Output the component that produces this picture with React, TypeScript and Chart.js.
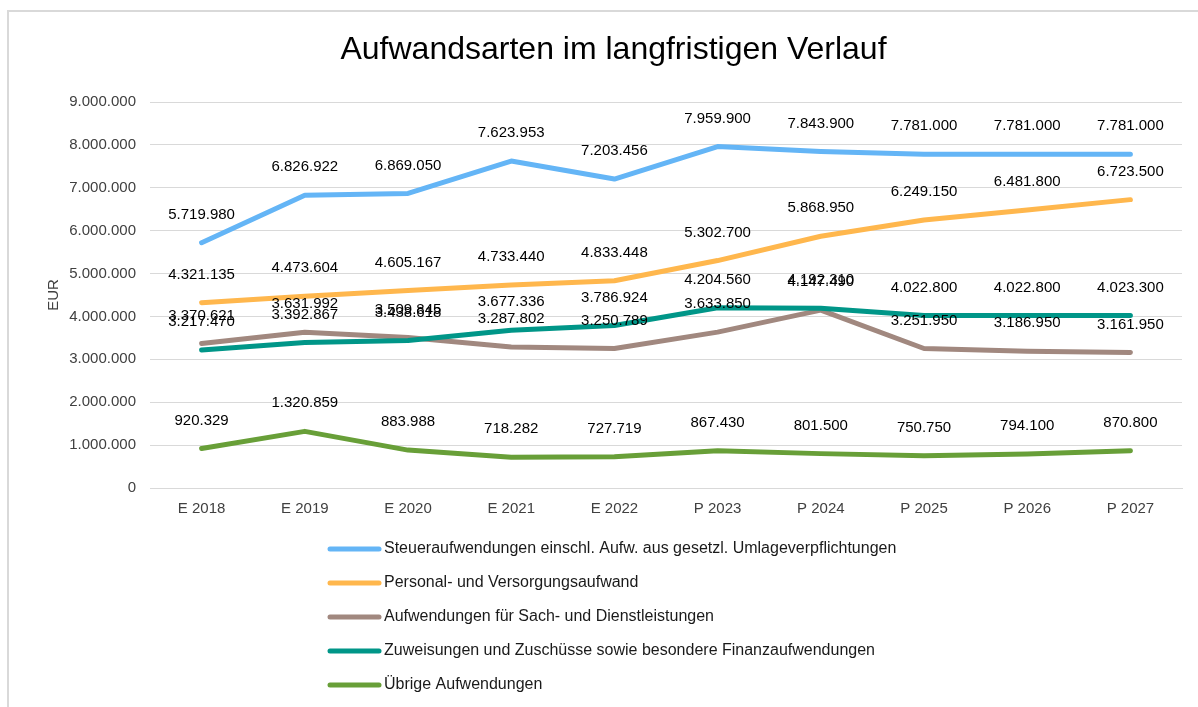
import React, { useEffect, useRef } from "react";
import { Chart, registerables } from "chart.js";

Chart.register(...registerables);

const categories = ["E 2018", "E 2019", "E 2020", "E 2021", "E 2022", "P 2023", "P 2024", "P 2025", "P 2026", "P 2027"];

const steuerValues = [5719980, 6826922, 6869050, 7623953, 7203456, 7959900, 7843900, 7781000, 7781000, 7781000];
const personalValues = [4321135, 4473604, 4605167, 4733440, 4833448, 5302700, 5868950, 6249150, 6481800, 6723500];
const sachValues = [3370621, 3631992, 3509845, 3287802, 3250789, 3633850, 4147490, 3251950, 3186950, 3161950];
const zuweisungValues = [3217470, 3392867, 3438618, 3677336, 3786924, 4204560, 4192310, 4022800, 4022800, 4023300];
const uebrigeValues = [920329, 1320859, 883988, 718282, 727719, 867430, 801500, 750750, 794100, 870800];

const seriesNames = [
  "Steueraufwendungen einschl. Aufw. aus gesetzl. Umlageverpflichtungen",
  "Personal- und Versorgungsaufwand",
  "Aufwendungen für Sach- und Dienstleistungen",
  "Zuweisungen und Zuschüsse sowie besondere Finanzaufwendungen",
  "Übrige Aufwendungen",
];
const seriesColors = ["#64B5F6", "#FFB74D", "#A1887F", "#009688", "#689F38"];

const yTicks = [0, 1000000, 2000000, 3000000, 4000000, 5000000, 6000000, 7000000, 8000000, 9000000];

const FONT = "'Liberation Sans', Arial, sans-serif";

const fmt = (n: number) => String(Math.round(n)).replace(/\B(?=(\d{3})+(?!\d))/g, ".");

const dataLabelPlugin = {
  id: "dataLabels",
  afterDatasetsDraw(chart: any) {
    const ctx = chart.ctx;
    ctx.save();
    ctx.font = `15px ${FONT}`;
    ctx.fillStyle = "#000000";
    ctx.textAlign = "center";
    ctx.textBaseline = "middle";
    chart.data.datasets.forEach((ds: any, i: number) => {
      const meta = chart.getDatasetMeta(i);
      meta.data.forEach((pt: any, j: number) => {
        ctx.fillText(fmt(ds.data[j]), pt.x, pt.y - 28);
      });
    });
    ctx.restore();
  },
};

const customLegendPlugin = {
  id: "customLegend",
  afterDraw(chart: any) {
    const ctx = chart.ctx;
    ctx.save();
    const x0 = 330;
    const yStart = 549;
    const step = 34;
    chart.data.datasets.forEach((ds: any, i: number) => {
      const y = yStart + i * step;
      ctx.strokeStyle = ds.borderColor;
      ctx.lineWidth = 5;
      ctx.lineCap = "round";
      ctx.beginPath();
      ctx.moveTo(x0, y);
      ctx.lineTo(x0 + 49, y);
      ctx.stroke();
      ctx.font = `16px ${FONT}`;
      ctx.fillStyle = "#1a1a1a";
      ctx.textAlign = "left";
      ctx.textBaseline = "middle";
      ctx.fillText(ds.label, x0 + 54, y);
    });
    ctx.restore();
  },
};

export default function App() {
  const canvasRef = useRef<HTMLCanvasElement | null>(null);

  useEffect(() => {
    if (!canvasRef.current) return;
    const allSeries = [steuerValues, personalValues, sachValues, zuweisungValues, uebrigeValues];
    const chart = new Chart(canvasRef.current, {
      type: "line",
      data: {
        labels: categories,
        datasets: allSeries.map((vals, i) => ({
          label: seriesNames[i],
          data: vals,
          borderColor: seriesColors[i],
          backgroundColor: seriesColors[i],
          borderWidth: 5,
          pointRadius: 0,
          pointHoverRadius: 0,
          tension: 0,
          fill: false,
          order: i === 2 ? 1 : 0,
          borderCapStyle: "round" as const,
          borderJoinStyle: "round" as const,
        })),
      },
      options: {
        responsive: false,
        animation: false,
        devicePixelRatio: 1,
        layout: { padding: { left: 45, right: 16, top: 0, bottom: 177 } },
        plugins: {
          legend: { display: false },
          tooltip: { enabled: false },
          title: {
            display: true,
            text: "Aufwandsarten im langfristigen Verlauf",
            color: "#000000",
            font: { family: FONT, size: 32, weight: "normal" },
            padding: { top: 31, bottom: 32.6 },
          },
        },
        scales: {
          x: {
            offset: true,
            grid: { display: false, drawTicks: false },
            border: { display: true, color: "#d9d9d9", width: 1 },
            ticks: { color: "#404040", font: { family: FONT, size: 15 }, padding: 12, maxRotation: 0 },
          },
          y: {
            min: 0,
            max: 9000000,
            afterBuildTicks: (scale: any) => {
              scale.ticks = yTicks.map((v) => ({ value: v }));
            },
            afterFit: (scale: any) => {
              scale.width = 105;
            },
            grid: { color: "#d9d9d9", drawTicks: false, lineWidth: 1 },
            border: { display: false },
            ticks: {
              color: "#404040",
              font: { family: FONT, size: 15 },
              padding: 14,
              callback: (v: any) => fmt(Number(v)),
            },
            title: {
              display: true,
              text: "EUR",
              color: "#404040",
              font: { family: FONT, size: 15 },
              padding: { top: 0, bottom: 0 },
            },
          },
        },
      },
      plugins: [dataLabelPlugin, customLegendPlugin],
    });
    return () => chart.destroy();
  }, []);

  return (
    <div style={{ position: "fixed", left: 0, top: 0, width: 1198, height: 707, overflow: "hidden", background: "#ffffff" }}>
      <div
        style={{
          position: "absolute",
          left: 7,
          top: 10,
          width: 1240,
          height: 760,
          border: "2px solid #d9d9d9",
          boxSizing: "border-box",
        }}
      />
      <canvas ref={canvasRef} width={1198} height={707} style={{ position: "absolute", left: 0, top: 0 }} />
    </div>
  );
}
